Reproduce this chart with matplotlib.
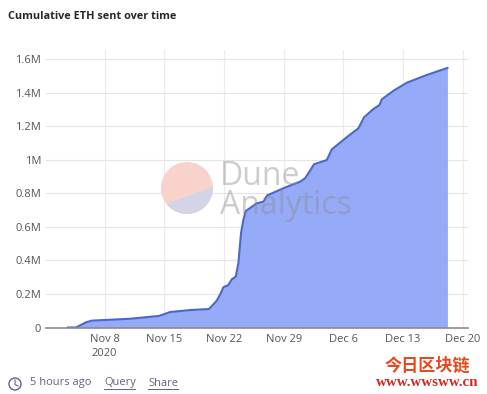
import matplotlib
matplotlib.use('Agg')
import matplotlib.pyplot as plt
from matplotlib.patches import Circle, Polygon

plt.rcParams['font.family'] = ['Open Sans', 'Noto Sans CJK SC', 'DejaVu Sans']

# days since Nov 8 2020, cumulative ETH in millions
days = [-4.3, -3.34, -2.17, -1.47, 2.99, 6.39, 7.68, 10.02, 12.25, 13.15, 13.62, 13.93,
        14.51, 14.91, 15.38, 15.69, 16.0, 16.27, 16.55, 17.84, 18.62, 19.05, 20.96, 22.92,
        23.5, 23.89, 24.56, 26.05, 26.64, 28.46, 29.75, 30.42, 31.51, 32.22, 32.5, 33.86,
        35.43, 37.77, 40.19]
eth = [0, 0, 0.031, 0.041, 0.052, 0.069, 0.092, 0.104, 0.110, 0.160, 0.204, 0.240,
       0.253, 0.287, 0.303, 0.384, 0.563, 0.641, 0.694, 0.740, 0.750, 0.787, 0.830, 0.869,
       0.889, 0.919, 0.973, 0.998, 1.062, 1.137, 1.187, 1.253, 1.302, 1.326, 1.360, 1.411,
       1.459, 1.505, 1.547]

x_ticks = [0, 7, 14, 21, 28, 35, 42]
x_labels = ['Nov 8\n2020', 'Nov 15', 'Nov 22', 'Nov 29', 'Dec 6', 'Dec 13', 'Dec 20']
y_ticks = [0, 0.2, 0.4, 0.6, 0.8, 1.0, 1.2, 1.4, 1.6]
y_labels = ['0', '0.2M', '0.4M', '0.6M', '0.8M', '1M', '1.2M', '1.4M', '1.6M']

W, H = 487, 394
fig = plt.figure(figsize=(W / 100, H / 100), dpi=100)

# plot area in pixels: x 46-468, y 50-327.5
ax = fig.add_axes([46 / W, 1 - 327.5 / H, 422 / W, 277.5 / H])
ax.fill_between(days, eth, 0, color='#8ea5f8', alpha=0.93, lw=0, zorder=2)
ax.plot(days, eth, color='#4a66cf', lw=1.5, zorder=3, solid_joinstyle='round')
ax.set_xlim(-6.86, 42.6)
ax.set_ylim(0, 1.654)
ax.set_xticks(x_ticks)
ax.set_xticklabels(x_labels, fontsize=8, color='#555555', linespacing=1.35)
ax.set_yticks(y_ticks)
ax.set_yticklabels(y_labels, fontsize=8, color='#555555')
ax.tick_params(length=0, pad=3.5)
ax.tick_params(axis='x', pad=4.5)
ax.grid(True, axis='y', color='#e4e4e4', lw=0.8, zorder=1)
ax.grid(True, axis='x', color='#ebebeb', lw=0.8, zorder=1)
ax.set_axisbelow(True)
for s in ['top', 'right', 'left']:
    ax.spines[s].set_visible(False)
ax.spines['bottom'].set_color('#8a8a92')
ax.spines['bottom'].set_linewidth(1.2)
ax.spines['bottom'].set_zorder(5)

# everything else placed in pixel coordinates on top
ov = fig.add_axes([0, 0, 1, 1], facecolor='none')
ov.set_xlim(0, W)
ov.set_ylim(H, 0)
ov.axis('off')

ov.text(8, 16, 'Cumulative ETH sent over time', fontsize=7.8, fontweight='bold',
        color='#26262e', va='center')

# Dune Analytics watermark, pie cut by a straight rising chord
pie = Circle((187, 188), 26, color='#f9d3cb', lw=0)
ov.add_patch(pie)
low = Polygon([(155, 208), (220, 184), (220, 225), (155, 225)], color='#d3d5e6', lw=0)
ov.add_patch(low)
low.set_clip_path(pie)
ov.text(220, 214, 'Dune\nAnalytics', fontsize=23, color='#8a8a8a', alpha=0.42,
        va='baseline', linespacing=0.86)

# footer
foot = '#5f6484'
ov.add_patch(Circle((15, 384), 6, fc='none', ec=foot, lw=1))
ov.plot([15, 15, 18], [380, 384.5, 386], color=foot, lw=0.8)
ov.text(30, 383, '5 hours ago', fontsize=8, color=foot, va='center')
ov.text(104, 383, 'Query', fontsize=8, color=foot, va='center')
ov.plot([104, 135], [389, 389], color=foot, lw=0.7)
ov.text(148, 383, 'Share', fontsize=8, color=foot, va='center')
ov.plot([148, 178], [389, 389], color=foot, lw=0.7)

# site stamp
ov.text(427, 365.5, '今日区块链', fontsize=12.3, fontweight='bold', color='#e8481c',
        ha='center', va='center', family=['Noto Sans CJK SC', 'DejaVu Sans'])
ov.text(427.5, 382.5, 'www.wwsww.cn', fontsize=10.8, fontweight='bold', color='#d8261c',
        ha='center', va='center', family='Liberation Serif')

fig.savefig('out.png', dpi=100, facecolor='white')
